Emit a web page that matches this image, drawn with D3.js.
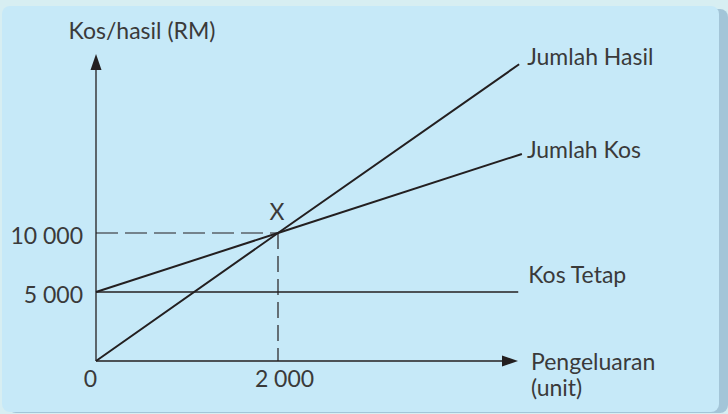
<!DOCTYPE html>
<html>
<head>
<meta charset="utf-8">
<script src="https://cdn.jsdelivr.net/npm/d3@7"></script>
<style>
  html, body { margin: 0; padding: 0; background: #d7eef2; }
  svg { display: block; }
  text { font-family: Lato, "Open Sans", sans-serif; fill: #3a3a3a; }
</style>
</head>
<body>
<svg id="chart" width="728" height="414"></svg>
<script>
// ---- data ----
const yTickValues = [5000, 10000];
const xTickValues = [0, 2000];
const seriesNames = ["Jumlah Hasil", "Jumlah Kos", "Kos Tetap"];
const hasilX = [0, 2000, 4650];
const hasilY = [0, 10000, 24300];
const kosX = [0, 2000, 4680];
const kosY = [5000, 10000, 16700];
const tetapX = [0, 4640];
const tetapY = [5000, 5000];
const breakEven = { x: 2000, y: 10000, label: "X" };
const yTitle = "Kos/hasil (RM)";
const xTitle = ["Pengeluaran", "(unit)"];

const svg = d3.select("#chart");

// panel background
svg.append("rect").attr("x", 8).attr("y", 9).attr("width", 720).attr("height", 404)
  .attr("rx", 8).attr("fill", "#a3c5d8");
svg.append("rect").attr("x", 2).attr("y", 6).attr("width", 717).attr("height", 406)
  .attr("rx", 8).attr("fill", "#c6e9f8");

// scales
const x = d3.scaleLinear().domain([0, 2000]).range([96, 278]);
const y = d3.scaleLinear().domain([0, 5000, 10000]).range([361, 292, 233]);

const fmt = d3.formatLocale({ decimal: ".", thousands: " ", grouping: [3], currency: ["", ""] }).format(",d");
const ink = "#231f20";
const fs = 23;

// dashed guide lines
svg.append("line").attr("x1", x(0)).attr("x2", x(breakEven.x))
  .attr("y1", y(breakEven.y)).attr("y2", y(breakEven.y))
  .attr("stroke", ink).attr("stroke-width", 1.2).attr("stroke-dasharray", "22,7");
svg.append("line").attr("x1", x(breakEven.x)).attr("x2", x(breakEven.x))
  .attr("y1", y(breakEven.y)).attr("y2", y(0))
  .attr("stroke", ink).attr("stroke-width", 1.2).attr("stroke-dasharray", "16,7");

// series lines
const line = d3.line().x(d => x(d[0])).y(d => y(d[1]));
const series = [
  { name: seriesNames[0], pts: d3.zip(hasilX, hasilY), w: 2 },
  { name: seriesNames[1], pts: d3.zip(kosX, kosY), w: 2 },
  { name: seriesNames[2], pts: d3.zip(tetapX, tetapY), w: 1.4 }
];
svg.selectAll("path.series").data(series).join("path")
  .attr("class", "series")
  .attr("d", d => line(d.pts))
  .attr("fill", "none").attr("stroke", ink).attr("stroke-width", d => d.w);

// series labels
const labelOffsets = [{ dx: 8, dy: 1 }, { dx: 5, dy: 4 }, { dx: 10, dy: -9 }];
svg.selectAll("text.slabel").data(series).join("text")
  .attr("class", "slabel")
  .attr("x", (d, i) => x(d.pts[d.pts.length - 1][0]) + labelOffsets[i].dx)
  .attr("y", (d, i) => y(d.pts[d.pts.length - 1][1]) + labelOffsets[i].dy)
  .attr("font-size", fs)
  .text(d => d.name);

// axes
const yAxis = svg.append("g").attr("transform", `translate(${x(0)},0)`)
  .call(d3.axisLeft(y).tickValues(yTickValues).tickSize(0).tickPadding(13).tickFormat(fmt));
yAxis.select(".domain").remove();
yAxis.selectAll("text").attr("font-size", fs).attr("font-family", "Lato, sans-serif")
  .attr("fill", "#3a3a3a").attr("dy", "0.45em");

const xDx = [-6, 6];
const xAxis = svg.append("g").attr("transform", `translate(0,${y(0)})`)
  .call(d3.axisBottom(x).tickValues(xTickValues).tickSize(0).tickPadding(10).tickFormat(fmt));
xAxis.select(".domain").remove();
xAxis.selectAll("text").attr("font-size", fs).attr("font-family", "Lato, sans-serif")
  .attr("fill", "#3a3a3a").attr("dx", (d, i) => xDx[i]);

// axis lines with arrows
const yTop = 54, xRight = 518;
svg.append("line").attr("x1", x(0)).attr("x2", x(0)).attr("y1", y(0)).attr("y2", yTop + 12)
  .attr("stroke", ink).attr("stroke-width", 1.3);
svg.append("path").attr("d", `M${x(0)},${yTop} L${x(0) - 5.5},${yTop + 16} L${x(0) + 5.5},${yTop + 16} Z`)
  .attr("fill", ink);
svg.append("line").attr("x1", x(0)).attr("x2", xRight - 12).attr("y1", y(0)).attr("y2", y(0))
  .attr("stroke", ink).attr("stroke-width", 1.3);
svg.append("path").attr("d", `M${xRight},${y(0)} L${xRight - 16},${y(0) - 5.5} L${xRight - 16},${y(0) + 5.5} Z`)
  .attr("fill", ink);

// titles
svg.append("text").attr("x", 142).attr("y", 39).attr("text-anchor", "middle")
  .attr("font-size", fs).text(yTitle);
const xt = svg.append("text").attr("x", 531).attr("y", 370).attr("font-size", fs);
xt.selectAll("tspan").data(xTitle).join("tspan")
  .attr("x", 531).attr("dy", (d, i) => i === 0 ? 0 : 26).text(d => d);

// break-even label
svg.append("text").attr("x", x(breakEven.x) - 1).attr("y", y(breakEven.y) - 13)
  .attr("text-anchor", "middle").attr("font-size", fs).text(breakEven.label);
</script>
</body>
</html>
